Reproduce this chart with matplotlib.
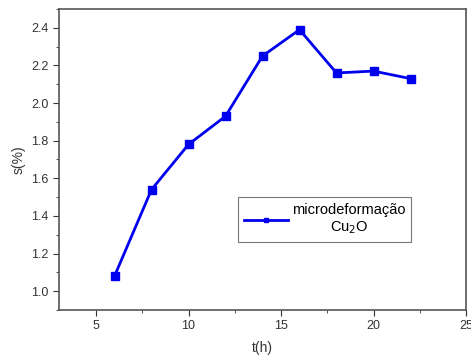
import matplotlib
matplotlib.use("Agg")
import matplotlib.pyplot as plt
from matplotlib.ticker import MultipleLocator

t_h = [6, 8, 10, 12, 14, 16, 18, 20, 22]
s_pct = [1.08, 1.54, 1.78, 1.93, 2.25, 2.39, 2.16, 2.17, 2.13]
x_ticks = [5, 10, 15, 20, 25]
y_ticks = [1.0, 1.2, 1.4, 1.6, 1.8, 2.0, 2.2, 2.4]

plt.rcParams['font.family'] = ['Liberation Sans', 'DejaVu Sans']

fig = plt.figure(figsize=(4.71, 3.58), dpi=100)
ax = fig.add_axes([59 / 471, 48 / 358, 407 / 471, 301 / 358])

ax.plot(t_h, s_pct, color='#0000ee', lw=2, marker='s', ms=6,
        label='microdeformação\nCu$_2$O')

ax.set_xlim(3, 25)
ax.set_ylim(0.9, 2.5)
ax.set_xticks(x_ticks)
ax.set_yticks(y_ticks)
ax.set_yticklabels([f"{v:.1f}" for v in y_ticks])
ax.xaxis.set_minor_locator(MultipleLocator(2.5))
ax.yaxis.set_minor_locator(MultipleLocator(0.1))
ax.tick_params(which='both', direction='out', top=False, right=False,
               labelsize=9, colors='#333333')
ax.tick_params(which='major', length=4)
ax.tick_params(which='minor', length=2.5)
for sp in ax.spines.values():
    sp.set_color('#555555')
    sp.set_linewidth(1.2)

ax.set_xlabel('t(h)', fontsize=10, color='#333333', labelpad=6)
ax.set_ylabel('s(%)', fontsize=10, color='#333333', labelpad=4)

leg = ax.legend(loc='upper left', bbox_to_anchor=(0.44, 0.375), fontsize=10.5,
                frameon=True, fancybox=False, edgecolor='#555555',
                handlelength=3.0, handletextpad=0.3, borderpad=0.4,
                borderaxespad=0, markerscale=0.6)
leg.get_frame().set_linewidth(0.8)
for txt in leg.get_texts():
    txt.set_multialignment('center')

fig.savefig('out.png', dpi=100)
